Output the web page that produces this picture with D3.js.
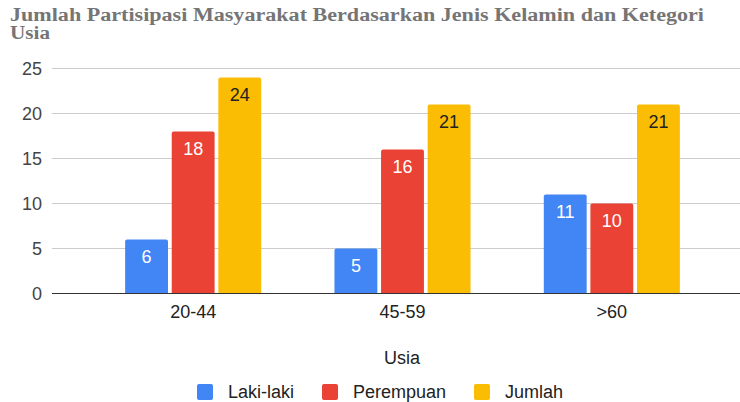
<!DOCTYPE html>
<html>
<head>
<meta charset="utf-8">
<script src="https://cdn.jsdelivr.net/npm/d3@7"></script>
<style>
  body { margin: 0; background: #fff; }
  svg { display: block; }
</style>
</head>
<body>
<div id="chart"></div>
<script>
// data
var categories = ["20-44", "45-59", ">60"];
var seriesNames = ["Laki-laki", "Perempuan", "Jumlah"];
var lakiLaki = [6, 5, 11];
var perempuan = [18, 16, 10];
var jumlah = [24, 21, 21];
var yTicks = [0, 5, 10, 15, 20, 25];

var colors = ["#4285f4", "#ea4335", "#fbbc04"];
var labelColors = ["#ffffff", "#ffffff", "#222222"];

var width = 740,
  height = 402,
  font = "'Liberation Sans', Arial, sans-serif";

var rows = categories.map(function (c, i) {
  return {cat: c, values: [lakiLaki[i], perempuan[i], jumlah[i]]};
});

var svg = d3.select("#chart").append("svg")
    .attr("width", width)
    .attr("height", height);

// title, wrapped on two lines like the original
var title = svg.append("text")
    .attr("font-family", "'Liberation Serif', Georgia, serif")
    .attr("font-weight", "bold")
    .attr("font-size", 18)
    .attr("fill", "#757575");
title.append("tspan")
    .attr("x", 10).attr("y", 21)
    .attr("textLength", 694)
    .attr("lengthAdjust", "spacingAndGlyphs")
    .text("Jumlah Partisipasi Masyarakat Berdasarkan Jenis Kelamin dan Ketegori");
title.append("tspan")
    .attr("x", 10).attr("y", 39)
    .attr("textLength", 40)
    .attr("lengthAdjust", "spacingAndGlyphs")
    .text("Usia");

var yScale = d3.scaleLinear()
    .domain([0, 25])
    .range([293.5, 68.5]);

var x0 = d3.scaleBand()
    .domain(categories)
    .range([88.5, 716.5])
    .paddingInner(0.35)
    .paddingOuter(0.175);

var x1 = d3.scaleBand()
    .domain(d3.range(seriesNames.length))
    .range([0, x0.bandwidth()])
    .paddingInner(0.08);

// gridlines
svg.append("g").selectAll("line")
    .data(yTicks.filter(function (d) { return d > 0; }))
    .enter().append("line")
    .attr("x1", 52).attr("x2", width)
    .attr("y1", function (d) { return yScale(d); })
    .attr("y2", function (d) { return yScale(d); })
    .attr("stroke", "#cccccc")
    .attr("stroke-width", 1);

// y axis labels
var yAxis = d3.axisLeft(yScale).tickValues(yTicks).tickSize(0).tickPadding(0);
var gy = svg.append("g")
    .attr("transform", "translate(42,0)")
    .call(yAxis);
gy.select(".domain").remove();
gy.selectAll("text")
    .attr("font-family", font)
    .attr("font-size", 18)
    .attr("fill", "#444");

// bars
var groups = svg.append("g").selectAll("g")
    .data(rows)
    .enter().append("g")
    .attr("transform", function (d) { return "translate(" + x0(d.cat) + ",0)"; });

function barPath(x, y, w, h, r) {
  return "M" + x + "," + (y + h) +
    "V" + (y + r) +
    "Q" + x + "," + y + " " + (x + r) + "," + y +
    "H" + (x + w - r) +
    "Q" + (x + w) + "," + y + " " + (x + w) + "," + (y + r) +
    "V" + (y + h) + "Z";
}

groups.selectAll("path")
    .data(function (d) { return d.values; })
    .enter().append("path")
    .attr("d", function (v, i) {
      var y = yScale(v);
      return barPath(x1(i), y, x1.bandwidth(), yScale(0) - y, 2);
    })
    .attr("fill", function (v, i) { return colors[i]; });

groups.selectAll("text")
    .data(function (d) { return d.values; })
    .enter().append("text")
    .attr("x", function (v, i) { return x1(i) + x1.bandwidth() / 2; })
    .attr("y", function (v) { return yScale(v) + 23; })
    .attr("text-anchor", "middle")
    .attr("font-family", font)
    .attr("font-size", 18)
    .attr("fill", function (v, i) { return labelColors[i]; })
    .text(function (v) { return v; });

// baseline
svg.append("line")
    .attr("x1", 52).attr("x2", width)
    .attr("y1", yScale(0)).attr("y2", yScale(0))
    .attr("stroke", "#333")
    .attr("stroke-width", 1);

// x axis
var xAxis = d3.axisBottom(x0).tickSize(0).tickPadding(0);
var gx = svg.append("g")
    .attr("transform", "translate(0,318)")
    .call(xAxis);
gx.select(".domain").remove();
gx.selectAll("text")
    .attr("y", 0)
    .attr("dy", 0)
    .attr("font-family", font)
    .attr("font-size", 18)
    .attr("fill", "#222");

svg.append("text")
    .attr("x", 402).attr("y", 364)
    .attr("text-anchor", "middle")
    .attr("font-family", font)
    .attr("font-size", 18)
    .attr("fill", "#222")
    .text("Usia");

// legend
var legendX = [197, 322, 474];
var legend = svg.append("g").selectAll("g")
    .data(seriesNames)
    .enter().append("g")
    .attr("transform", function (d, i) { return "translate(" + legendX[i] + ",384)"; });
legend.append("rect")
    .attr("width", 16).attr("height", 16)
    .attr("rx", 2)
    .attr("fill", function (d, i) { return colors[i]; });
legend.append("text")
    .attr("x", 31).attr("y", 14)
    .attr("font-family", font)
    .attr("font-size", 18)
    .attr("fill", "#222")
    .text(function (d) { return d; });
</script>
</body>
</html>
